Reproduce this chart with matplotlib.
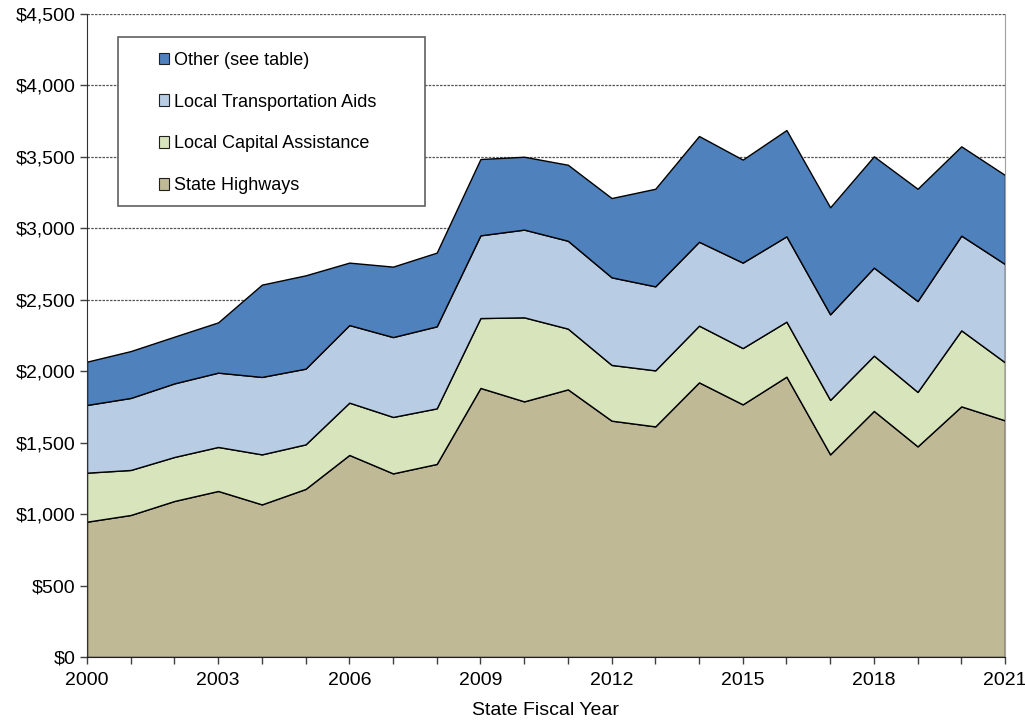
import matplotlib.pyplot as plt
from matplotlib.patches import Patch, Rectangle
from matplotlib.ticker import FuncFormatter, MultipleLocator

plt.rcParams["font.family"] = ["Liberation Sans", "DejaVu Sans"]

years = list(range(2000, 2022))
state_highways = [947, 994, 1092, 1162, 1068, 1176, 1414, 1285, 1351, 1883, 1789,
                  1873, 1654, 1614, 1922, 1768, 1962, 1418, 1722, 1474, 1754, 1656]
local_capital = [343, 315, 308, 308, 350, 312, 366, 395, 389, 489, 588,
                 425, 390, 392, 397, 394, 385, 381, 387, 381, 532, 406]
local_aids = [474, 504, 515, 520, 542, 530, 543, 559, 574, 579, 614,
              615, 613, 588, 587, 598, 597, 599, 616, 636, 663, 688]
other = [303, 328, 327, 352, 646, 653, 437, 493, 516, 534, 510,
         532, 555, 683, 740, 721, 744, 749, 779, 786, 625, 623]

labels = ["State Highways", "Local Capital Assistance",
          "Local Transportation Aids", "Other (see table)"]
colors = ["#BFB995", "#D8E4BC", "#B8CCE4", "#4F81BD"]
label_years = list(range(2000, 2022, 3))

fig = plt.figure(figsize=(10.25, 7.27), dpi=100)
ax = fig.add_axes([87 / 1025, 1 - 657 / 727, 918 / 1025, 643 / 727])

ax.stackplot(years, state_highways, local_capital, local_aids, other,
             colors=colors, edgecolor="black", linewidth=1.0, zorder=2)

ax.set_xlim(2000, 2021)
ax.set_ylim(0, 4500)
ax.yaxis.set_major_locator(MultipleLocator(500))
ax.yaxis.set_major_formatter(FuncFormatter(lambda v, p: f"${v:,.0f}"))
ax.set_xticks(years)
ax.set_xticklabels([str(y) if y in label_years else "" for y in years])
ax.tick_params(axis="both", labelsize=14, direction="out", length=5,
               width=1, color="#404040")
ax.tick_params(axis="x", pad=6)
ax.grid(axis="y", linestyle=(0, (2, 1)), color="#555555", linewidth=0.9, zorder=0)
ax.set_axisbelow(True)

ax.spines["top"].set_visible(False)
ax.spines["right"].set_color("#a0a0a0")
ax.spines["left"].set_color("#303030")
ax.spines["bottom"].set_color("#202020")
ax.spines["left"].set_zorder(3)
ax.spines["bottom"].set_zorder(3)

ax.set_xlabel("State Fiscal Year", fontsize=14, labelpad=9)

# legend box drawn separately so its size matches the original
box = Rectangle((118 / 1025, 1 - 206 / 727), 307 / 1025, 169 / 727,
                transform=fig.transFigure, facecolor="white",
                edgecolor="#606060", linewidth=1.2, zorder=5)
fig.add_artist(box)
handles = [Patch(facecolor=c, edgecolor="#202020", linewidth=0.8) for c in colors]
leg = fig.legend(handles[::-1], labels[::-1], loc="upper left",
                 bbox_to_anchor=(146 / 1025, 1 - 39 / 727),
                 frameon=False, fontsize=13, handlelength=0.6,
                 handleheight=0.6, handletextpad=0.25, labelspacing=1.38,
                 borderpad=0.2)
leg.set_zorder(6)

fig.savefig("out.png", dpi=100)
